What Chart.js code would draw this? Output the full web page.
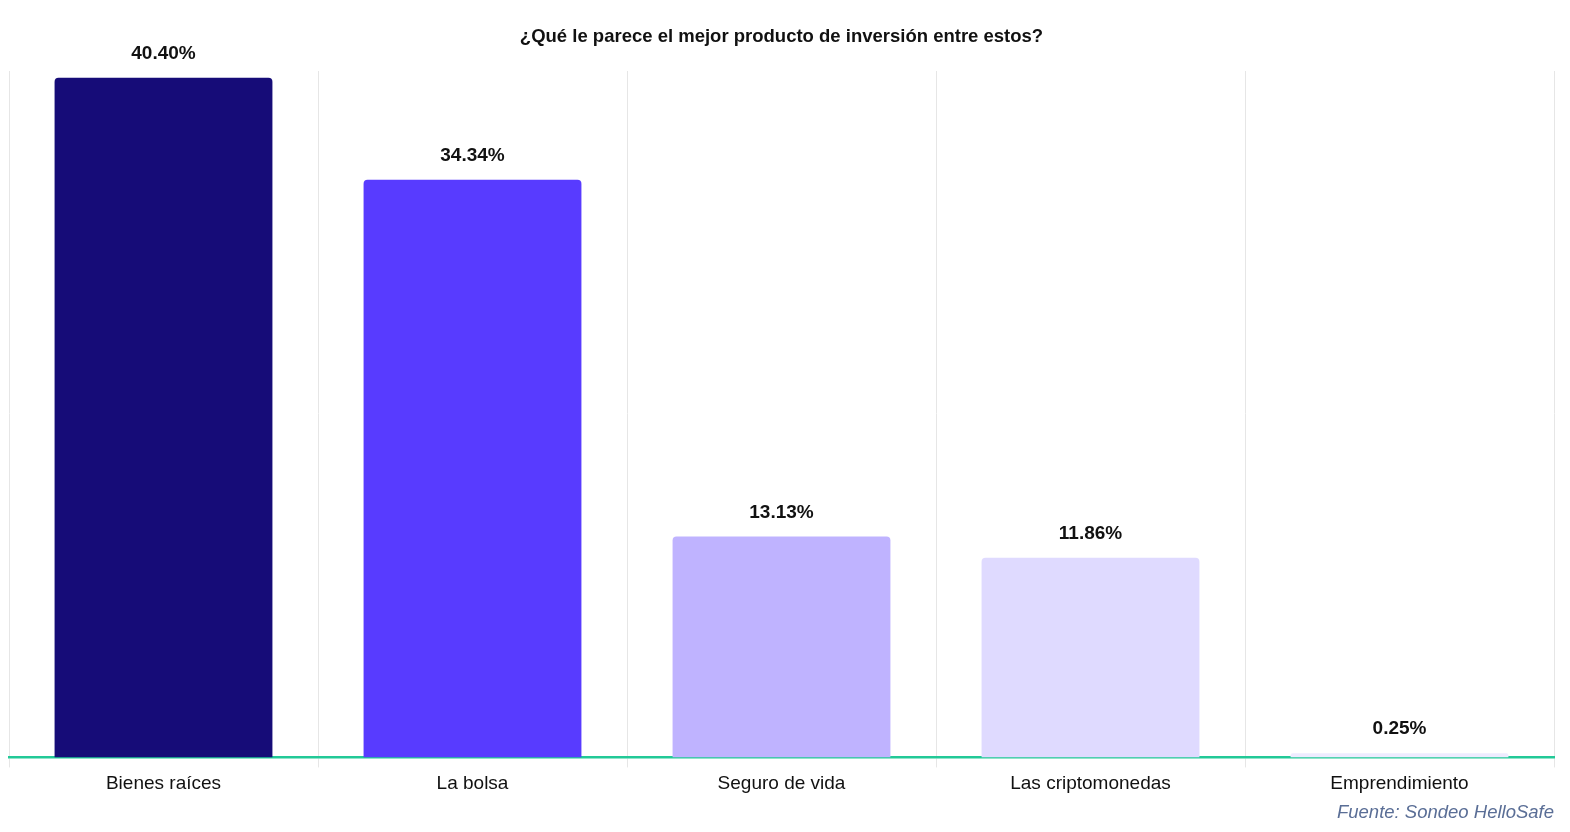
<!DOCTYPE html>
<html>
<head>
<meta charset="utf-8">
<script src="https://cdn.jsdelivr.net/npm/chart.js@4/dist/chart.umd.min.js"></script>
<style>
html,body{margin:0;padding:0;background:#fff;}
#wrap{width:1570px;height:832px;position:relative;}
</style>
</head>
<body>
<div id="wrap"><canvas id="c" width="1570" height="832"></canvas></div>
<script>
const categories = ["Bienes raíces", "La bolsa", "Seguro de vida", "Las criptomonedas", "Emprendimiento"];
const values = [40.40, 34.34, 13.13, 11.86, 0.25];
const valueLabels = ["40.40%", "34.34%", "13.13%", "11.86%", "0.25%"];
const barColors = ["#160C78", "#583BFF", "#BFB3FF", "#DFDAFF", "#EEEBFF"];
const titleText = "¿Qué le parece el mejor producto de inversión entre estos?";
const sourceText = "Fuente: Sondeo HelloSafe";

const FONT = "'Liberation Sans', Arial, Helvetica, sans-serif";

const valueLabelPlugin = {
  id: 'valueLabels',
  afterDatasetsDraw(chart) {
    const ctx = chart.ctx;
    const meta = chart.getDatasetMeta(0);
    ctx.save();
    ctx.font = "bold 19px " + FONT;
    ctx.fillStyle = "#111111";
    ctx.textAlign = "center";
    ctx.textBaseline = "middle";
    meta.data.forEach((bar, i) => {
      ctx.fillText(valueLabels[i], bar.x, bar.y - 24);
    });
    ctx.restore();
  }
};

new Chart(document.getElementById('c'), {
  type: 'bar',
  data: {
    labels: categories,
    datasets: [{
      data: values,
      backgroundColor: barColors,
      borderRadius: {topLeft: 4, topRight: 4, bottomLeft: 0, bottomRight: 0},
      borderSkipped: 'bottom',
      barPercentage: 0.705,
      categoryPercentage: 1.0
    }]
  },
  options: {
    responsive: false,
    animation: false,
    devicePixelRatio: 1,
    layout: { padding: { left: 9, right: 16, top: 0, bottom: 0 } },
    plugins: {
      legend: { display: false },
      tooltip: { enabled: false },
      title: {
        display: true,
        text: titleText,
        color: "#111111",
        font: { family: FONT, size: 18.5, weight: 'bold' },
        padding: { top: 26, bottom: 22.8 }
      },
      subtitle: {
        display: true,
        position: 'bottom',
        align: 'end',
        text: sourceText,
        color: "#5A6E96",
        font: { family: FONT, size: 18.5, style: 'italic' },
        padding: { top: 1.9, bottom: 8.5 }
      }
    },
    scales: {
      x: {
        offset: true,
        grid: {
          display: true,
          offset: true,
          color: "#E6E6E6",
          lineWidth: 1,
          drawTicks: true,
          tickLength: 10
        },
        border: { display: true, color: "#22C997", width: 2.5 },
        ticks: {
          color: "#111111",
          font: { family: FONT, size: 19 },
          padding: 4.6,
          maxRotation: 0
        }
      },
      y: {
        display: false,
        min: 0,
        max: 40.8,
        grid: { display: false }
      }
    }
  },
  plugins: [valueLabelPlugin]
});
</script>
</body>
</html>
